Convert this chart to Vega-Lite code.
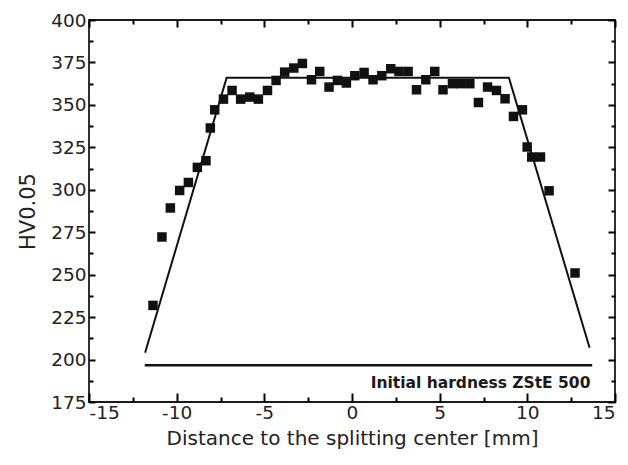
{
  "$schema": "https://vega.github.io/schema/vega-lite/v6.json",
  "autosize": "none",
  "padding": {"left": 89, "top": 20, "right": 13, "bottom": 63},
  "width": 526,
  "height": 382,
  "background": "white",
  "config": {
    "view": {"stroke": "#1a1a1a", "strokeWidth": 1.8},
    "font": "DejaVu Sans",
    "axis": {"grid": false, "domain": false, "labelFont": "DejaVu Sans", "titleFont": "DejaVu Sans", "labelColor": "#222", "titleColor": "#222", "tickWidth": 2, "titleFontWeight": "normal"}
  },
  "datasets": {
    "pts": [
      {"x": -11.35, "y": 231.9}, {"x": -10.84, "y": 272.2}, {"x": -10.36, "y": 289.3}, {"x": -9.83, "y": 299.6},
      {"x": -9.33, "y": 304.3}, {"x": -8.82, "y": 313.2}, {"x": -8.33, "y": 317.1}, {"x": -8.08, "y": 336.4},
      {"x": -7.83, "y": 347.1}, {"x": -7.33, "y": 353.4}, {"x": -6.84, "y": 358.5}, {"x": -6.35, "y": 353.4},
      {"x": -5.83, "y": 354.6}, {"x": -5.34, "y": 353.4}, {"x": -4.82, "y": 358.5}, {"x": -4.33, "y": 364.4},
      {"x": -3.84, "y": 369.3}, {"x": -3.32, "y": 371.7}, {"x": -2.83, "y": 374.4}, {"x": -2.31, "y": 364.8},
      {"x": -1.84, "y": 369.7}, {"x": -1.31, "y": 360.5}, {"x": -0.83, "y": 364.4}, {"x": -0.32, "y": 362.9},
      {"x": 0.16, "y": 367.2}, {"x": 0.69, "y": 369.1}, {"x": 1.2, "y": 364.8}, {"x": 1.7, "y": 367.2},
      {"x": 2.21, "y": 371.3}, {"x": 2.68, "y": 369.7}, {"x": 3.2, "y": 369.7}, {"x": 3.68, "y": 358.9},
      {"x": 4.21, "y": 364.8}, {"x": 4.72, "y": 369.7}, {"x": 5.19, "y": 358.9}, {"x": 5.73, "y": 362.5},
      {"x": 6.2, "y": 362.5}, {"x": 6.72, "y": 362.5}, {"x": 7.21, "y": 351.4}, {"x": 7.73, "y": 360.5},
      {"x": 8.24, "y": 358.5}, {"x": 8.73, "y": 353.6}, {"x": 9.21, "y": 343.2}, {"x": 9.72, "y": 347.1},
      {"x": 9.99, "y": 325.2}, {"x": 10.25, "y": 319.3}, {"x": 10.75, "y": 319.3}, {"x": 11.24, "y": 299.4},
      {"x": 12.72, "y": 251.0}
    ],
    "fit": [
      {"x": -11.8, "y": 204}, {"x": -7.15, "y": 366}, {"x": 8.95, "y": 366}, {"x": 13.55, "y": 207}
    ],
    "base": [
      {"x": -11.82, "y": 196.6}, {"x": 13.7, "y": 196.6}
    ],
    "lbl": [
      {"x": 13.6, "y": 183, "label": "Initial hardness ZStE 500"}
    ]
  },
  "layer": [
    {
      "data": {"name": "pts"},
      "mark": {"type": "point", "shape": "square", "filled": true, "color": "#111", "size": 90, "opacity": 1},
      "encoding": {
        "x": {"field": "x", "type": "quantitative", "scale": {"domain": [-15, 15], "nice": false, "zero": false},
          "axis": {"orient": "bottom", "values": [-15, -12.5, -10, -7.5, -5, -2.5, 0, 2.5, 5, 7.5, 10, 12.5, 15],
            "labelExpr": "datum.value % 5 == 0 ? '' + datum.value : ''", "tickColor": "#000",
            "tickSize": {"condition": {"test": "datum.value % 5 == 0", "value": -9}, "value": -5},
            "labelPadding": 10, "labelFontSize": 18.5, "title": "Distance to the splitting center [mm]", "titleFontSize": 20, "titlePadding": 7}},
        "y": {"field": "y", "type": "quantitative", "scale": {"domain": [175, 400], "nice": false, "zero": false},
          "axis": {"orient": "left", "values": [175, 187.5, 200, 212.5, 225, 237.5, 250, 262.5, 275, 287.5, 300, 312.5, 325, 337.5, 350, 362.5, 375, 387.5, 400],
            "labelExpr": "datum.value % 25 == 0 ? '' + datum.value : ''", "tickColor": "#000",
            "tickSize": {"condition": {"test": "datum.value % 25 == 0", "value": -6}, "value": -4},
            "labelPadding": 9, "labelFontSize": 18.5, "title": "HV0.05", "titleFontSize": 21, "titlePadding": 12}}
      }
    },
    {
      "data": {"name": "fit"},
      "mark": {"type": "line", "color": "#111", "strokeWidth": 2},
      "encoding": {
        "x": {"field": "x", "type": "quantitative", "scale": {"domain": [-15, 15], "nice": false, "zero": false},
          "axis": {"orient": "top", "values": [-15, -12.5, -10, -7.5, -5, -2.5, 0, 2.5, 5, 7.5, 10, 12.5, 15],
            "labels": false, "tickColor": "#000",
            "tickSize": {"condition": {"test": "datum.value % 5 == 0", "value": -7}, "value": -4}, "title": null}},
        "y": {"field": "y", "type": "quantitative", "scale": {"domain": [175, 400], "nice": false, "zero": false},
          "axis": {"orient": "right", "values": [175, 187.5, 200, 212.5, 225, 237.5, 250, 262.5, 275, 287.5, 300, 312.5, 325, 337.5, 350, 362.5, 375, 387.5, 400],
            "labels": false, "tickColor": "#000",
            "tickSize": {"condition": {"test": "datum.value % 25 == 0", "value": -7}, "value": -4}, "title": null}}
      }
    },
    {
      "data": {"name": "base"},
      "mark": {"type": "line", "color": "#111", "strokeWidth": 2.5},
      "encoding": {
        "x": {"field": "x", "type": "quantitative", "scale": {"domain": [-15, 15], "nice": false, "zero": false}, "axis": null},
        "y": {"field": "y", "type": "quantitative", "scale": {"domain": [175, 400], "nice": false, "zero": false}, "axis": null}
      }
    },
    {
      "data": {"name": "lbl"},
      "mark": {"type": "text", "align": "right", "baseline": "alphabetic", "font": "DejaVu Sans", "fontWeight": "bold", "fontSize": 15.5, "color": "#1a1a1a"},
      "encoding": {
        "x": {"field": "x", "type": "quantitative", "scale": {"domain": [-15, 15], "nice": false, "zero": false}, "axis": null},
        "y": {"field": "y", "type": "quantitative", "scale": {"domain": [175, 400], "nice": false, "zero": false}, "axis": null},
        "text": {"field": "label"}
      }
    }
  ],
  "resolve": {"axis": {"x": "independent", "y": "independent"}}
}
